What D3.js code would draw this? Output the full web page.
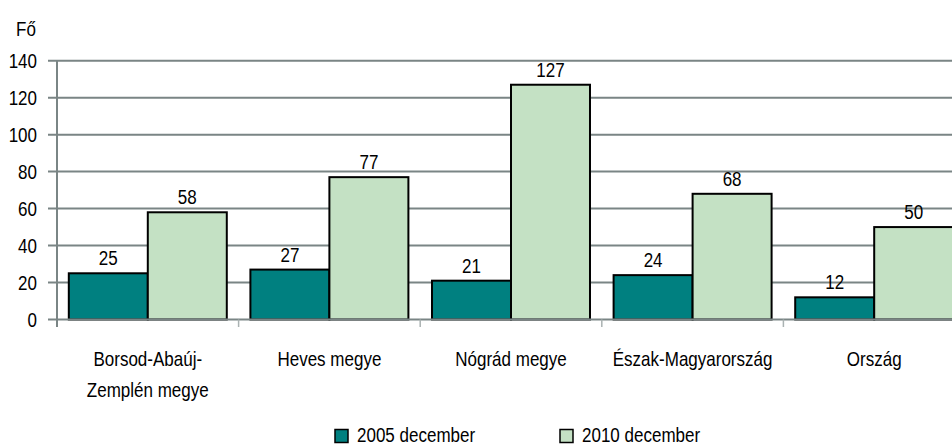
<!DOCTYPE html>
<html>
<head>
<meta charset="utf-8">
<script src="https://cdn.jsdelivr.net/npm/d3@7"></script>
<style>
  body { margin: 0; background: #fff; }
  svg { display: block; font-family: "Liberation Sans", Arial, sans-serif; }
</style>
</head>
<body>
<div class="chart-container"></div>
<script>
// data
var categories = [["Borsod-Abaúj-", "Zemplén megye"], ["Heves megye"], ["Nógrád megye"], ["Észak-Magyarország"], ["Ország"]];
var series = ["2005 december", "2010 december"];
var values2005 = [25, 27, 21, 24, 12];
var values2010 = [58, 77, 127, 68, 50];
var yTicks = [0, 20, 40, 60, 80, 100, 120, 140];
var colors = ["#008080", "#c4e1c4"];

var width = 952, height = 447;
var fontSize = 21, squeeze = 0.81; // the original text looks tall and narrow

var svg = d3.select(".chart-container").append("svg")
    .attr("width", width)
    .attr("height", height);

// helper: narrow text, drawn at (x, y)
function label(parent, x, y, txt, anchor) {
  return parent.append("g")
      .attr("transform", "translate(" + x + "," + y + ") scale(" + squeeze + ",1)")
    .append("text")
      .attr("text-anchor", anchor || "start")
      .attr("font-size", fontSize)
      .attr("fill", "#000")
      .text(txt);
}

var catKeys = categories.map(function(c) { return c.join(" "); });

// x scale: bands wider than the view, last one gets cut like in the original
var x = d3.scaleBand()
    .domain(catKeys)
    .range([57, 965])
    .paddingInner(0.13)
    .paddingOuter(0.065);

var x1 = d3.scaleBand()
    .domain(series)
    .range([0, x.bandwidth()]);

var y = d3.scaleLinear()
    .domain([0, 140])
    .range([319.5, 60.7]);

var gridColor = "#7a8585";

// gridlines
svg.append("g").selectAll("line")
    .data(yTicks.filter(function(t) { return t > 0; }))
  .enter().append("line")
    .attr("x1", 48).attr("x2", width)
    .attr("y1", function(d) { return y(d); })
    .attr("y2", function(d) { return y(d); })
    .attr("stroke", gridColor)
    .attr("stroke-width", 2);

// y tick labels
var yLab = svg.append("g");
yTicks.forEach(function(t) {
  label(yLab, 37, y(t) + 7, t, "end");
});

label(svg, 16, 36, "Fő");

// bars
var groups = svg.append("g").selectAll("g")
    .data(catKeys)
  .enter().append("g")
    .attr("transform", function(d) { return "translate(" + x(d) + ",0)"; });

groups.each(function(k, i) {
  var g = d3.select(this);
  var vals = [values2005[i], values2010[i]];
  series.forEach(function(s, j) {
    g.append("rect")
      .attr("x", x1(s))
      .attr("width", x1.bandwidth())
      .attr("y", y(vals[j]))
      .attr("height", y(0) - y(vals[j]))
      .attr("fill", colors[j])
      .attr("stroke", "#000")
      .attr("stroke-width", 2);
    label(g, x1(s) + x1.bandwidth() / 2, y(vals[j]) - 8, vals[j], "middle");
  });
});

// axes lines
svg.append("line")
    .attr("x1", 57).attr("x2", 57)
    .attr("y1", 60).attr("y2", 327)
    .attr("stroke", gridColor).attr("stroke-width", 2);
svg.append("line")
    .attr("x1", 48).attr("x2", width)
    .attr("y1", y(0)).attr("y2", y(0))
    .attr("stroke", gridColor).attr("stroke-width", 2);

// category boundary ticks
var gap = (x.step() - x.bandwidth()) / 2;
svg.append("g").selectAll("line")
    .data(catKeys.slice(1))
  .enter().append("line")
    .attr("x1", function(d) { return x(d) - gap; })
    .attr("x2", function(d) { return x(d) - gap; })
    .attr("y1", y(0)).attr("y2", 327)
    .attr("stroke", "#aab2b2").attr("stroke-width", 1.5);

// category labels
var catLab = svg.append("g");
categories.forEach(function(lines, i) {
  var cx = x(catKeys[i]) + x.bandwidth() / 2;
  lines.forEach(function(line, j) {
    label(catLab, cx, 366 + j * 31, line, "middle");
  });
});

// legend
var legendX = [334, 559];
series.forEach(function(s, i) {
  svg.append("rect")
    .attr("x", legendX[i] + 1).attr("y", 429.5)
    .attr("width", 13).attr("height", 13)
    .attr("fill", colors[i])
    .attr("stroke", "#000")
    .attr("stroke-width", 1.5);
  label(svg, legendX[i] + 23, 442, s);
});
</script>
</body>
</html>
